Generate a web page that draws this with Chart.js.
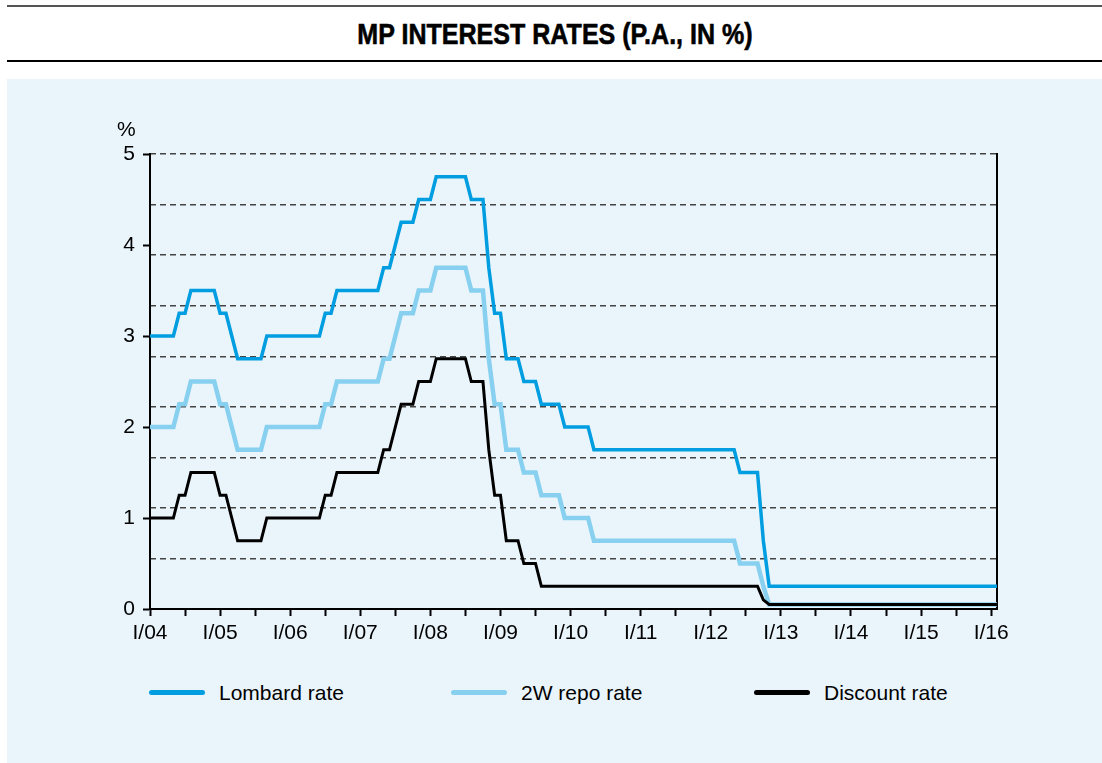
<!DOCTYPE html>
<html>
<head>
<meta charset="utf-8">
<script src="https://cdn.jsdelivr.net/npm/chart.js@4.4.0/dist/chart.umd.min.js"></script>
<style>
  html, body { margin: 0; padding: 0; background: #fff; width: 1102px; height: 763px; overflow: hidden; font-family: 'Liberation Sans', Arial, sans-serif; }
  #topRule { position: absolute; left: 7px; top: 5px; width: 1095px; height: 2px; background: #555; }
  #title { position: absolute; left: 4px; top: 19px; width: 1102px; height: 30px; line-height: 30px; text-align: center;
           font-family: 'Liberation Sans', sans-serif; font-weight: bold; font-size: 30px; color: #000;
           transform: scaleX(0.835); transform-origin: 551px 15px; -webkit-text-stroke: 0.6px #000; }
  #bottomRule { position: absolute; left: 7px; top: 60px; width: 1095px; height: 2px; background: #000; }
  #panel { position: absolute; left: 7px; top: 79px; width: 1095px; height: 684px; background: #EAF4FB; }
  #chart { position: absolute; left: 0; top: 0; }
  #unit { position: absolute; left: 110px; top: 39px; font-size: 21px; line-height: 21px; color: #000; }
  .legItem { position: absolute; top: 603px; height: 22px; line-height: 22px; font-size: 21px; color: #000; white-space: nowrap; }
  .legItem .swatch { position: absolute; left: 0; top: 8px; width: 56px; height: 5px; border-radius: 3px; }
  .legItem .txt { position: absolute; left: 70px; top: 0; }
</style>
</head>
<body>
<div id="topRule"></div>
<div id="title">MP INTEREST RATES (P.A., IN %)</div>
<div id="bottomRule"></div>
<div id="panel">
  <canvas id="chart" width="1095" height="600"></canvas>
  <div id="unit">%</div>
  <div id="legend"></div>
</div>
<script>
// months Jan 2004 .. Feb 2016
var years = ['04', '05', '06', '07', '08', '09', '10', '11', '12', '13', '14', '15', '16'];
var romanMonths = ['I', 'II', 'III', 'IV', 'V', 'VI', 'VII', 'VIII', 'IX', 'X', 'XI', 'XII'];
var months = [];
years.forEach(function (y) { romanMonths.forEach(function (m) { months.push(m + '/' + y); }); });
var categories = months.slice(0, 146);

var lombardRate = [
  3, 3, 3, 3, 3, 3.25, 3.25, 3.5, 3.5, 3.5, 3.5, 3.5,                 // 2004
  3.25, 3.25, 3, 2.75, 2.75, 2.75, 2.75, 2.75, 3, 3, 3, 3,            // 2005
  3, 3, 3, 3, 3, 3, 3.25, 3.25, 3.5, 3.5, 3.5, 3.5,                   // 2006
  3.5, 3.5, 3.5, 3.5, 3.75, 3.75, 4, 4.25, 4.25, 4.25, 4.5, 4.5,      // 2007
  4.5, 4.75, 4.75, 4.75, 4.75, 4.75, 4.75, 4.5, 4.5, 4.5, 3.75, 3.25, // 2008
  3.25, 2.75, 2.75, 2.75, 2.5, 2.5, 2.5, 2.25, 2.25, 2.25, 2.25, 2,   // 2009
  2, 2, 2, 2, 1.75, 1.75, 1.75, 1.75, 1.75, 1.75, 1.75, 1.75,         // 2010
  1.75, 1.75, 1.75, 1.75, 1.75, 1.75, 1.75, 1.75, 1.75, 1.75, 1.75, 1.75, // 2011
  1.75, 1.75, 1.75, 1.75, 1.75, 1.5, 1.5, 1.5, 1.5, 0.75, 0.25, 0.25, // 2012
  0.25, 0.25, 0.25, 0.25, 0.25, 0.25, 0.25, 0.25, 0.25, 0.25, 0.25, 0.25, // 2013
  0.25, 0.25, 0.25, 0.25, 0.25, 0.25, 0.25, 0.25, 0.25, 0.25, 0.25, 0.25, // 2014
  0.25, 0.25, 0.25, 0.25, 0.25, 0.25, 0.25, 0.25, 0.25, 0.25, 0.25, 0.25, // 2015
  0.25, 0.25                                                          // 2016
];

var repoRate = [
  2, 2, 2, 2, 2, 2.25, 2.25, 2.5, 2.5, 2.5, 2.5, 2.5,
  2.25, 2.25, 2, 1.75, 1.75, 1.75, 1.75, 1.75, 2, 2, 2, 2,
  2, 2, 2, 2, 2, 2, 2.25, 2.25, 2.5, 2.5, 2.5, 2.5,
  2.5, 2.5, 2.5, 2.5, 2.75, 2.75, 3, 3.25, 3.25, 3.25, 3.5, 3.5,
  3.5, 3.75, 3.75, 3.75, 3.75, 3.75, 3.75, 3.5, 3.5, 3.5, 2.75, 2.25,
  2.25, 1.75, 1.75, 1.75, 1.5, 1.5, 1.5, 1.25, 1.25, 1.25, 1.25, 1,
  1, 1, 1, 1, 0.75, 0.75, 0.75, 0.75, 0.75, 0.75, 0.75, 0.75,
  0.75, 0.75, 0.75, 0.75, 0.75, 0.75, 0.75, 0.75, 0.75, 0.75, 0.75, 0.75,
  0.75, 0.75, 0.75, 0.75, 0.75, 0.5, 0.5, 0.5, 0.5, 0.25, 0.05, 0.05,
  0.05, 0.05, 0.05, 0.05, 0.05, 0.05, 0.05, 0.05, 0.05, 0.05, 0.05, 0.05,
  0.05, 0.05, 0.05, 0.05, 0.05, 0.05, 0.05, 0.05, 0.05, 0.05, 0.05, 0.05,
  0.05, 0.05, 0.05, 0.05, 0.05, 0.05, 0.05, 0.05, 0.05, 0.05, 0.05, 0.05,
  0.05, 0.05
];

var discountRate = [
  1, 1, 1, 1, 1, 1.25, 1.25, 1.5, 1.5, 1.5, 1.5, 1.5,
  1.25, 1.25, 1, 0.75, 0.75, 0.75, 0.75, 0.75, 1, 1, 1, 1,
  1, 1, 1, 1, 1, 1, 1.25, 1.25, 1.5, 1.5, 1.5, 1.5,
  1.5, 1.5, 1.5, 1.5, 1.75, 1.75, 2, 2.25, 2.25, 2.25, 2.5, 2.5,
  2.5, 2.75, 2.75, 2.75, 2.75, 2.75, 2.75, 2.5, 2.5, 2.5, 1.75, 1.25,
  1.25, 0.75, 0.75, 0.75, 0.5, 0.5, 0.5, 0.25, 0.25, 0.25, 0.25, 0.25,
  0.25, 0.25, 0.25, 0.25, 0.25, 0.25, 0.25, 0.25, 0.25, 0.25, 0.25, 0.25,
  0.25, 0.25, 0.25, 0.25, 0.25, 0.25, 0.25, 0.25, 0.25, 0.25, 0.25, 0.25,
  0.25, 0.25, 0.25, 0.25, 0.25, 0.25, 0.25, 0.25, 0.25, 0.1, 0.05, 0.05,
  0.05, 0.05, 0.05, 0.05, 0.05, 0.05, 0.05, 0.05, 0.05, 0.05, 0.05, 0.05,
  0.05, 0.05, 0.05, 0.05, 0.05, 0.05, 0.05, 0.05, 0.05, 0.05, 0.05, 0.05,
  0.05, 0.05, 0.05, 0.05, 0.05, 0.05, 0.05, 0.05, 0.05, 0.05, 0.05, 0.05,
  0.05, 0.05
];

var yTicks = [0, 1, 2, 3, 4, 5];
// dashed grid levels (every 5/9 of a percentage point)
var gridLevels = [0, 0.5556, 1.1111, 1.6667, 2.2222, 2.7778, 3.3333, 3.8889, 4.4444, 5];
var legendX = [142, 444, 747];

var tickFont = { family: 'Liberation Sans', size: 21 };

var chart = new Chart(document.getElementById('chart'), {
  type: 'line',
  data: {
    labels: categories,
    datasets: [
      { label: 'Lombard rate', data: lombardRate, borderColor: '#009EE0', backgroundColor: '#009EE0', borderWidth: 3.5, order: 1 },
      { label: '2W repo rate', data: repoRate, borderColor: '#88D0EF', backgroundColor: '#88D0EF', borderWidth: 4.5, order: 2 },
      { label: 'Discount rate', data: discountRate, borderColor: '#000000', backgroundColor: '#000000', borderWidth: 3, order: 0 }
    ]
  },
  options: {
    responsive: false,
    animation: false,
    devicePixelRatio: 1,
    layout: { padding: { left: 0, top: 75, right: 105, bottom: 30 } },
    elements: { point: { radius: 0 }, line: { tension: 0 } },
    plugins: { legend: { display: false }, tooltip: { enabled: false } },
    scales: {
      x: {
        type: 'category',
        offset: false,
        grid: {
          drawOnChartArea: false, tickLength: 7, tickWidth: 2,
          tickColor: function (c) { return c.index % 6 === 0 ? '#000' : 'rgba(0,0,0,0)'; }
        },
        border: { color: '#000', width: 2 },
        ticks: {
          autoSkip: false, maxRotation: 0, minRotation: 0, padding: 5, color: '#000', font: tickFont,
          callback: function (v) { var l = this.getLabelForValue(v); return l.indexOf('I/') === 0 ? l : ''; }
        },
        afterFit: function (s) { s.height = 40; }
      },
      y: {
        position: 'left', min: 0, max: 5,
        afterBuildTicks: function (s) { s.ticks = yTicks.map(function (v) { return { value: v }; }); },
        ticks: { padding: 8, color: '#000', font: tickFont },
        grid: { drawOnChartArea: false, tickLength: 7, tickWidth: 2, tickColor: '#000' },
        border: { color: '#000', width: 2 },
        afterFit: function (s) { s.width = 143; }
      },
      yGrid: {
        position: 'right', min: 0, max: 5,
        afterBuildTicks: function (s) { s.ticks = gridLevels.map(function (v) { return { value: v }; }); },
        ticks: { display: false },
        grid: { drawTicks: false, color: '#444', lineWidth: 1.4 },
        border: { display: true, color: '#000', width: 2, dash: [6, 4] },
        afterFit: function (s) { s.width = 0; }
      }
    }
  }
});

// html legend built from the datasets
var legend = document.getElementById('legend');
chart.data.datasets.forEach(function (ds, i) {
  var item = document.createElement('div');
  item.className = 'legItem';
  item.style.left = legendX[i] + 'px';
  var sw = document.createElement('span');
  sw.className = 'swatch';
  sw.style.background = ds.borderColor;
  var tx = document.createElement('span');
  tx.className = 'txt';
  tx.textContent = ds.label;
  item.appendChild(sw);
  item.appendChild(tx);
  legend.appendChild(item);
});
</script>
</body>
</html>
